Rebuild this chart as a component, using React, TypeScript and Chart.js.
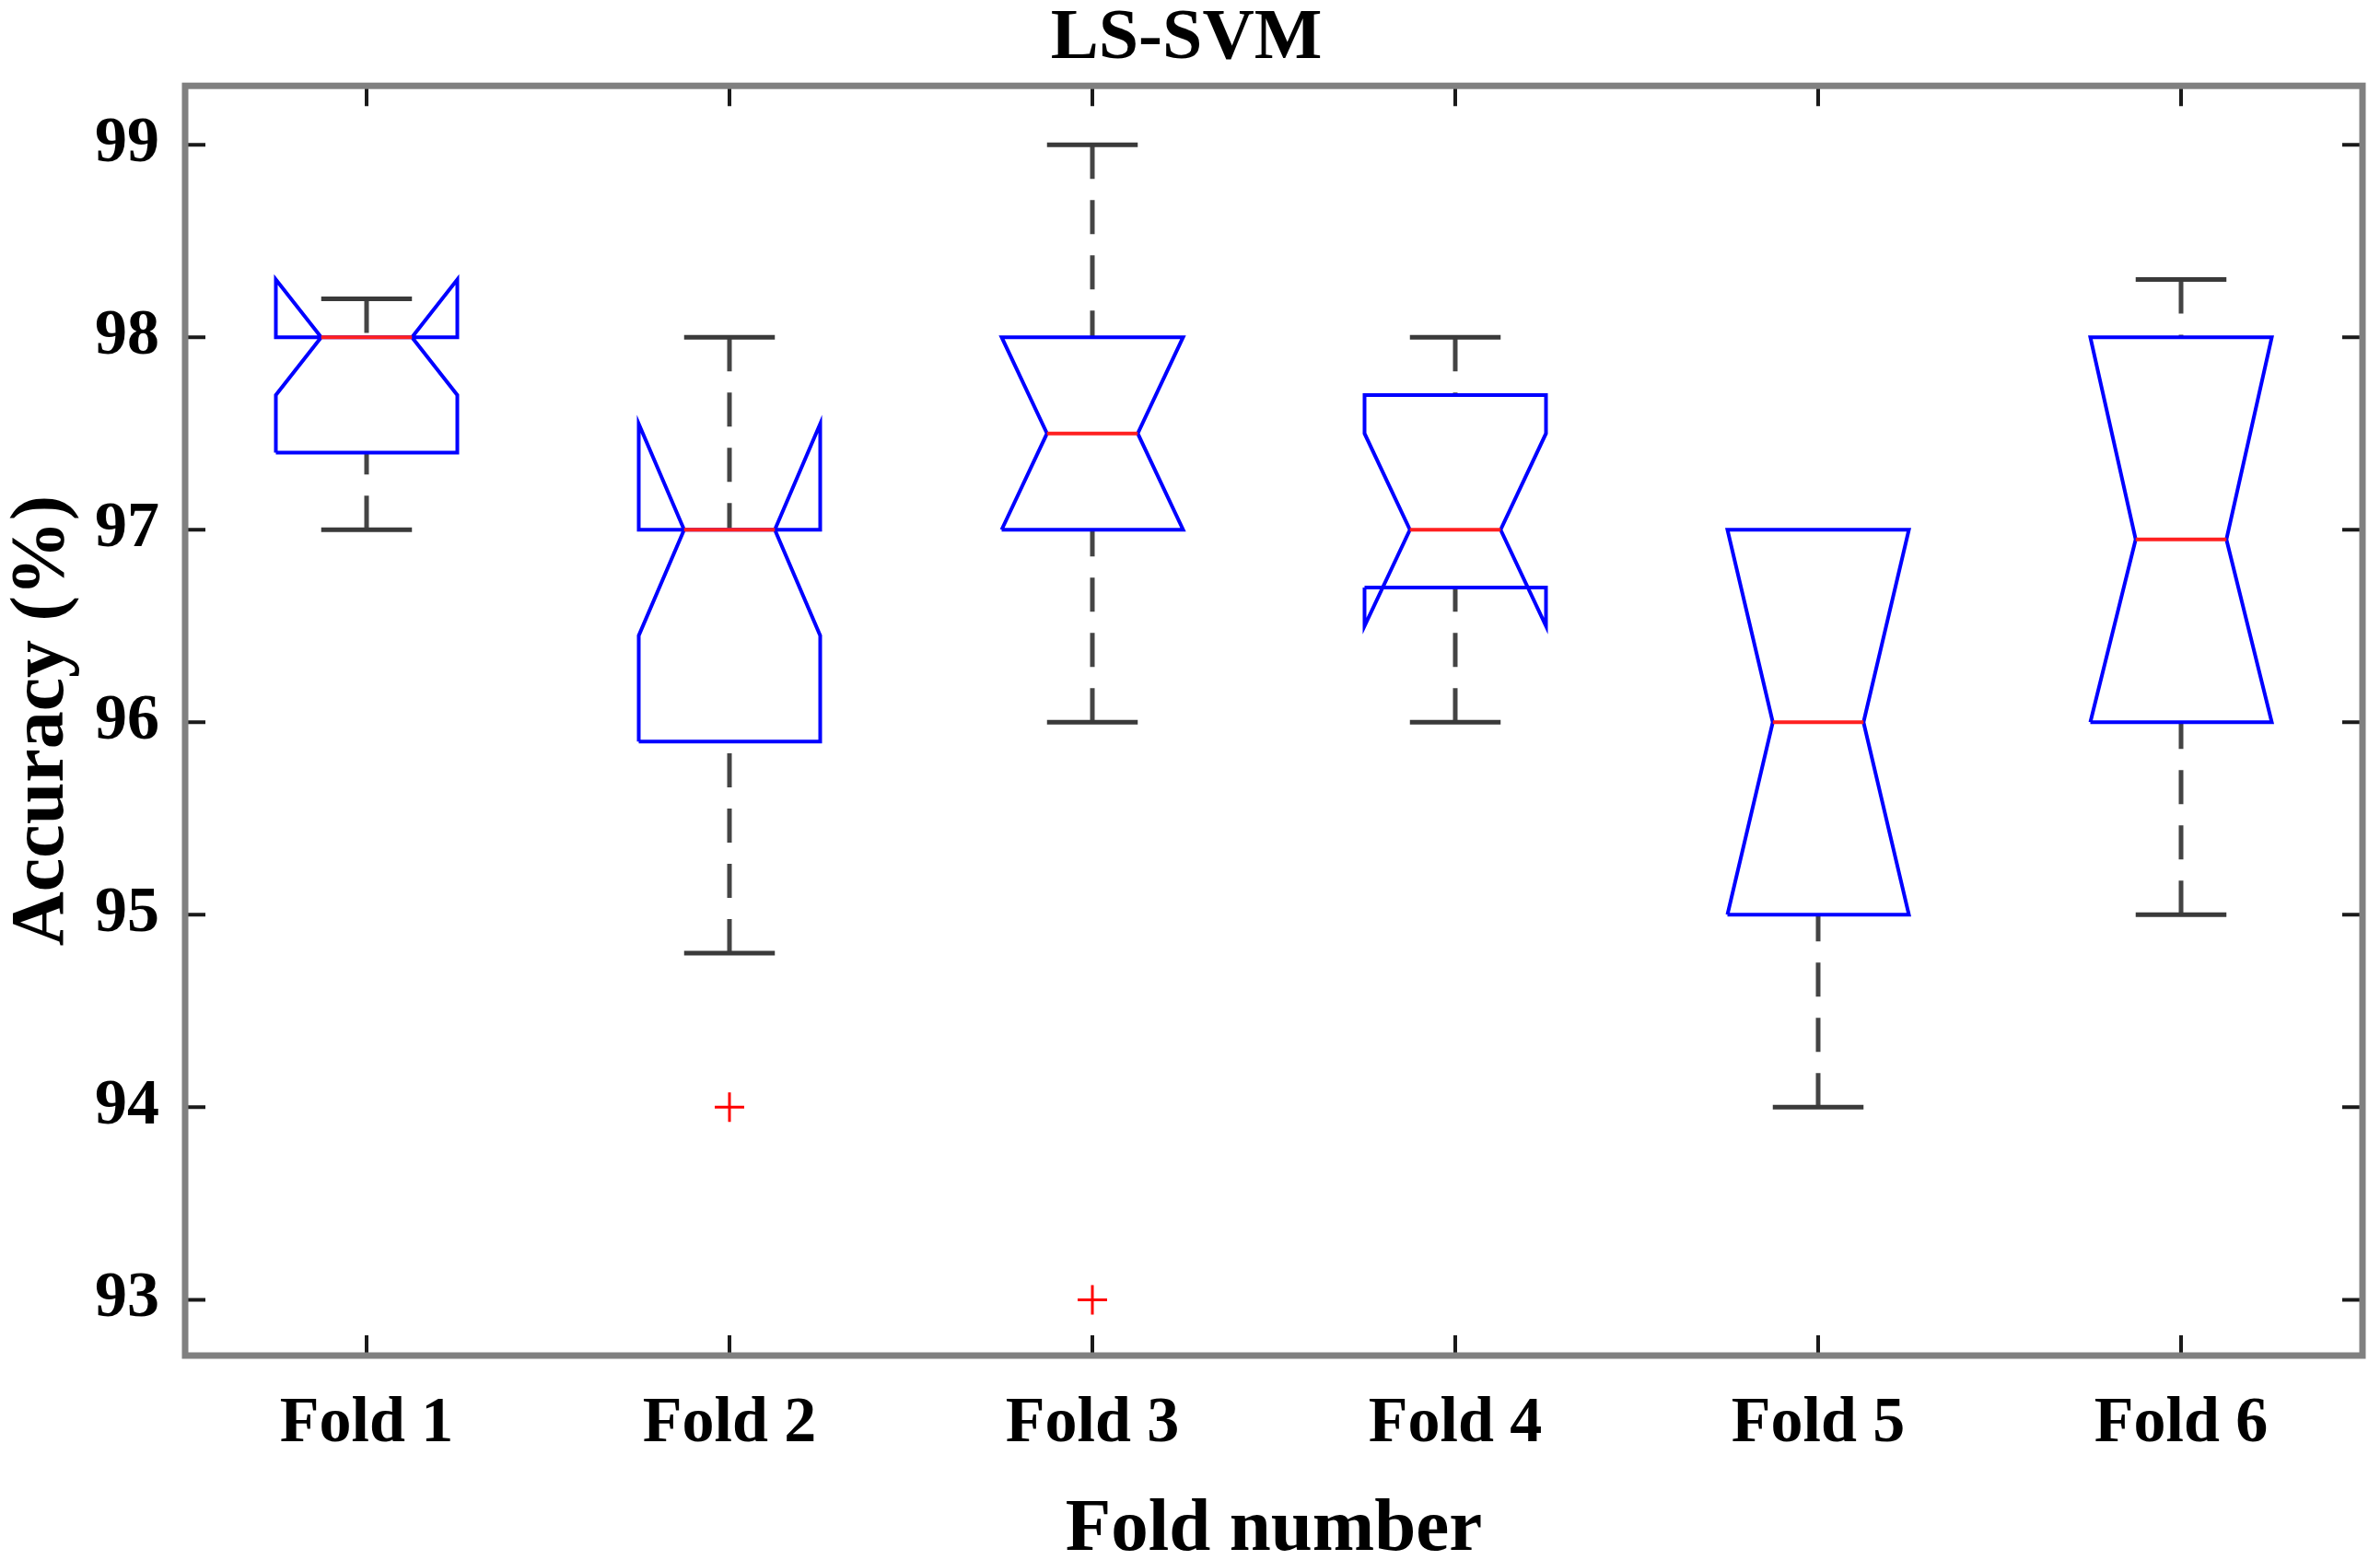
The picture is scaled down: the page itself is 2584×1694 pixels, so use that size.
import React, { useEffect, useRef } from 'react';
import { Chart, registerables } from 'chart.js';

Chart.register(...registerables);

// ---- data ----
const folds = ['Fold 1', 'Fold 2', 'Fold 3', 'Fold 4', 'Fold 5', 'Fold 6'];
const upperWhisker = [98.2, 98.0, 99.0, 98.0, 97.0, 98.3];
const upperQuartile = [98.0, 97.0, 98.0, 97.7, 97.0, 98.0];
const medians = [98.0, 97.0, 97.5, 97.0, 96.0, 96.95];
const lowerQuartile = [97.4, 95.9, 97.0, 96.7, 95.0, 96.0];
const lowerWhisker = [97.0, 94.8, 96.0, 96.0, 94.0, 95.0];
const notchHigh = [98.3, 97.55, 98.0, 97.5, 97.0, 98.0];
const notchLow = [97.7, 96.45, 97.0, 96.5, 95.0, 96.0];
const outlierFold = [2, 3];
const outlierValue = [94.0, 93.0];
const yTicks = [93, 94, 95, 96, 97, 98, 99];

const FONT = "'Liberation Serif', 'Times New Roman', serif";
const BOX_HALF = 0.25;
const NOTCH_HALF = 0.125;
const CAP_HALF = 0.125;

type P = { x: number; y: number | null };

function buildBoxes(): P[] {
  const pts: P[] = [];
  folds.forEach((_, i) => {
    const c = i + 1;
    const l = c - BOX_HALF, r = c + BOX_HALF;
    const nl = c - NOTCH_HALF, nr = c + NOTCH_HALF;
    pts.push(
      { x: l, y: lowerQuartile[i] },
      { x: l, y: notchLow[i] },
      { x: nl, y: medians[i] },
      { x: l, y: notchHigh[i] },
      { x: l, y: upperQuartile[i] },
      { x: r, y: upperQuartile[i] },
      { x: r, y: notchHigh[i] },
      { x: nr, y: medians[i] },
      { x: r, y: notchLow[i] },
      { x: r, y: lowerQuartile[i] },
      { x: l, y: lowerQuartile[i] },
      { x: c, y: null }
    );
  });
  return pts;
}

function buildMedians(): P[] {
  const pts: P[] = [];
  folds.forEach((_, i) => {
    const c = i + 1;
    pts.push({ x: c - NOTCH_HALF, y: medians[i] }, { x: c + NOTCH_HALF, y: medians[i] }, { x: c, y: null });
  });
  return pts;
}

function buildWhiskers(): P[] {
  const pts: P[] = [];
  folds.forEach((_, i) => {
    const c = i + 1;
    if (upperWhisker[i] > upperQuartile[i]) {
      pts.push({ x: c, y: upperWhisker[i] }, { x: c, y: upperQuartile[i] }, { x: c, y: null });
    }
    if (lowerWhisker[i] < lowerQuartile[i]) {
      pts.push({ x: c, y: lowerWhisker[i] }, { x: c, y: lowerQuartile[i] }, { x: c, y: null });
    }
  });
  return pts;
}

function buildCaps(): P[] {
  const pts: P[] = [];
  folds.forEach((_, i) => {
    const c = i + 1;
    if (upperWhisker[i] > upperQuartile[i]) {
      pts.push({ x: c - CAP_HALF, y: upperWhisker[i] }, { x: c + CAP_HALF, y: upperWhisker[i] }, { x: c, y: null });
    }
    if (lowerWhisker[i] < lowerQuartile[i]) {
      pts.push({ x: c - CAP_HALF, y: lowerWhisker[i] }, { x: c + CAP_HALF, y: lowerWhisker[i] }, { x: c, y: null });
    }
  });
  return pts;
}

const frameTicks = {
  id: 'frameTicks',
  afterDatasetsDraw(chart: any) {
    const { ctx, chartArea: a, scales } = chart;
    const L = 22;
    ctx.save();
    ctx.strokeStyle = '#1a1a1a';
    ctx.lineWidth = 4;
    ctx.beginPath();
    scales.y.ticks.forEach((t: any) => {
      const y = scales.y.getPixelForValue(t.value);
      ctx.moveTo(a.left, y);
      ctx.lineTo(a.left + L, y);
      ctx.moveTo(a.right, y);
      ctx.lineTo(a.right - L, y);
    });
    scales.x.ticks.forEach((t: any) => {
      const x = scales.x.getPixelForValue(t.value);
      ctx.moveTo(x, a.bottom);
      ctx.lineTo(x, a.bottom - L);
      ctx.moveTo(x, a.top);
      ctx.lineTo(x, a.top + L);
    });
    ctx.stroke();
    ctx.strokeStyle = '#808080';
    ctx.lineWidth = 7;
    ctx.strokeRect(a.left, a.top, a.right - a.left, a.bottom - a.top);
    ctx.restore();
  },
};

export default function App() {
  const ref = useRef<HTMLCanvasElement | null>(null);

  useEffect(() => {
    if (!ref.current) return;
    const chart = new Chart(ref.current, {
      type: 'line',
      data: {
        datasets: [
          {
            label: 'median',
            data: buildMedians(),
            borderColor: '#ff2020',
            borderWidth: 4,
            pointRadius: 0,
            spanGaps: false,
            order: 0,
          } as any,
          {
            label: 'box',
            data: buildBoxes(),
            borderColor: '#0000ff',
            borderWidth: 4,
            pointRadius: 0,
            spanGaps: false,
            tension: 0,
            order: 1,
          } as any,
          {
            label: 'caps',
            data: buildCaps(),
            borderColor: '#3a3a3a',
            borderWidth: 5,
            pointRadius: 0,
            spanGaps: false,
            order: 2,
          } as any,
          {
            label: 'whiskers',
            data: buildWhiskers(),
            borderColor: '#444444',
            borderWidth: 5,
            borderDash: [37, 23],
            pointRadius: 0,
            spanGaps: false,
            order: 3,
          } as any,
          {
            type: 'scatter',
            label: 'outliers',
            data: outlierFold.map((f, i) => ({ x: f, y: outlierValue[i] })),
            pointStyle: 'cross',
            pointRadius: 16,
            pointBorderWidth: 3,
            pointBorderColor: '#ff0000',
            borderColor: '#ff0000',
            showLine: false,
            order: 0,
          } as any,
        ],
      },
      options: {
        animation: false,
        responsive: true,
        maintainAspectRatio: false,
        devicePixelRatio: 1,
        layout: { padding: { left: 0, right: 8, top: 0, bottom: 0 } },
        plugins: {
          legend: { display: false },
          tooltip: { enabled: false },
          title: {
            display: true,
            text: 'LS-SVM',
            color: '#000',
            font: { family: FONT, size: 78, weight: 'bold', lineHeight: 0.9 },
            padding: { top: 8, bottom: 15 },
          },
        },
        scales: {
          x: {
            type: 'linear',
            min: 0.5,
            max: 6.5,
            afterBuildTicks: (s: any) => {
              s.ticks = folds.map((_, i) => ({ value: i + 1 }));
            },
            afterFit: (s: any) => {
              s.height = 222;
            },
            grid: { display: false, drawTicks: false },
            border: { display: false },
            ticks: {
              autoSkip: false,
              maxRotation: 0,
              padding: 33,
              color: '#000',
              font: { family: FONT, size: 70, weight: 'bold', lineHeight: 1.2 },
              callback: (v: any) => folds[Math.round(Number(v)) - 1] ?? '',
            },
            title: {
              display: true,
              text: 'Fold number',
              color: '#000',
              font: { family: FONT, size: 81, weight: 'bold', lineHeight: 0.8 },
              padding: { top: 0, bottom: 0 },
            },
          },
          y: {
            type: 'linear',
            min: 92.71,
            max: 99.306,
            afterBuildTicks: (s: any) => {
              s.ticks = yTicks.map((v) => ({ value: v }));
            },
            afterFit: (s: any) => {
              s.width = 201;
            },
            grid: { display: false, drawTicks: false },
            border: { display: false },
            ticks: {
              padding: 28,
              color: '#000',
              font: { family: FONT, size: 70, weight: 'bold', lineHeight: 1.2 },
              callback: (v: any) => String(v),
            },
            title: {
              display: true,
              text: 'Accuracy (%)',
              color: '#000',
              font: { family: FONT, size: 82, weight: 'bold', lineHeight: 0.9 },
              padding: { top: 10, bottom: 0 },
            },
          },
        },
      } as any,
      plugins: [frameTicks],
    });
    return () => chart.destroy();
  }, []);

  return (
    <div style={{ position: 'absolute', left: 0, top: 0, width: 2584, height: 1694, background: '#fff' }}>
      <canvas ref={ref} />
    </div>
  );
}
